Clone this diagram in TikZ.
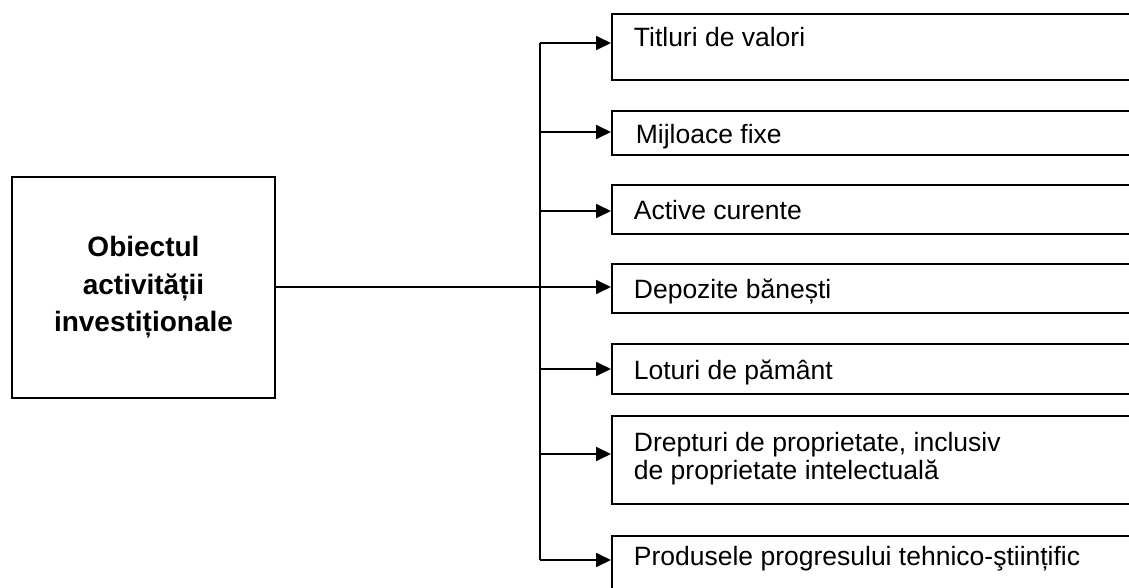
\documentclass[tikz,border=0pt]{standalone}
\usepackage{fontspec}
\setmainfont{Liberation Sans}
\usetikzlibrary{arrows.meta}
\begin{document}
\begin{tikzpicture}[x=1pt,y=-1pt,
  line width=1.8pt,
  box/.style={draw=black, line width=1.8pt, rectangle, anchor=north west, minimum width=540pt, inner sep=0pt},
  lbl/.style={anchor=base west, inner sep=0pt, font=\fontsize{26.5}{27.5}\selectfont},
  arr/.style={-{Triangle[length=15pt,width=14pt]}, line width=1.8pt},
]
\useasboundingbox (0,0) rectangle (1129,588);
\clip (0,0) rectangle (1129,588);
% left box
\node[draw, line width=1.8pt, minimum width=263pt, minimum height=221pt, inner sep=0pt,
      align=center, font=\fontsize{28}{37.5}\selectfont\bfseries] (obj) at (143.5,287.5)
      {Obiectul\\activității\\investiționale};
% right boxes
\node[box, minimum height=66pt] (b1) at (611,13) {};
\node[box, minimum height=44pt] (b2) at (611,110) {};
\node[box, minimum height=49pt] (b3) at (611,184) {};
\node[box, minimum height=49pt] (b4) at (611,263) {};
\node[box, minimum height=50pt] (b5) at (611,343) {};
\node[box, minimum height=88pt] (b6) at (611,415) {};
\node[box, minimum height=80pt] (b7) at (611,535) {};
% labels
\node[lbl] (l1) at (633,47) {Titluri de valori};
\node[lbl] (l2) at (635,144) {Mijloace fixe};
\node[lbl] (l3) at (633,219) {Active curente};
\node[lbl] (l4) at (633,298) {Depozite bănești};
\node[lbl] (l5) at (633,379) {Loturi de pământ};
\node[lbl] (l6a) at (633,451) {Drepturi de proprietate, inclusiv};
\node[lbl] (l6b) at (633,479) {de proprietate intelectuală};
\node[lbl] (l7) at (633,565) {Produsele progresului tehnico-ştiințific};
% trunk
\coordinate (t1) at (540,43);
\coordinate (t2) at (540,132);
\coordinate (t3) at (540,211);
\coordinate (t4) at (540,287);
\coordinate (t5) at (540,369);
\coordinate (t6) at (540,454);
\coordinate (t7) at (540,560);
\draw (t1) -- (t7);
\draw (obj.east |- t4) -- (t4);
\draw[arr] (t1) -- (t1 -| b1.west);
\draw[arr] (t2) -- (t2 -| b2.west);
\draw[arr] (t3) -- (t3 -| b3.west);
\draw[arr] (t4) -- (t4 -| b4.west);
\draw[arr] (t5) -- (t5 -| b5.west);
\draw[arr] (t6) -- (t6 -| b6.west);
\draw[arr] (t7) -- (t7 -| b7.west);
\end{tikzpicture}
\end{document}
